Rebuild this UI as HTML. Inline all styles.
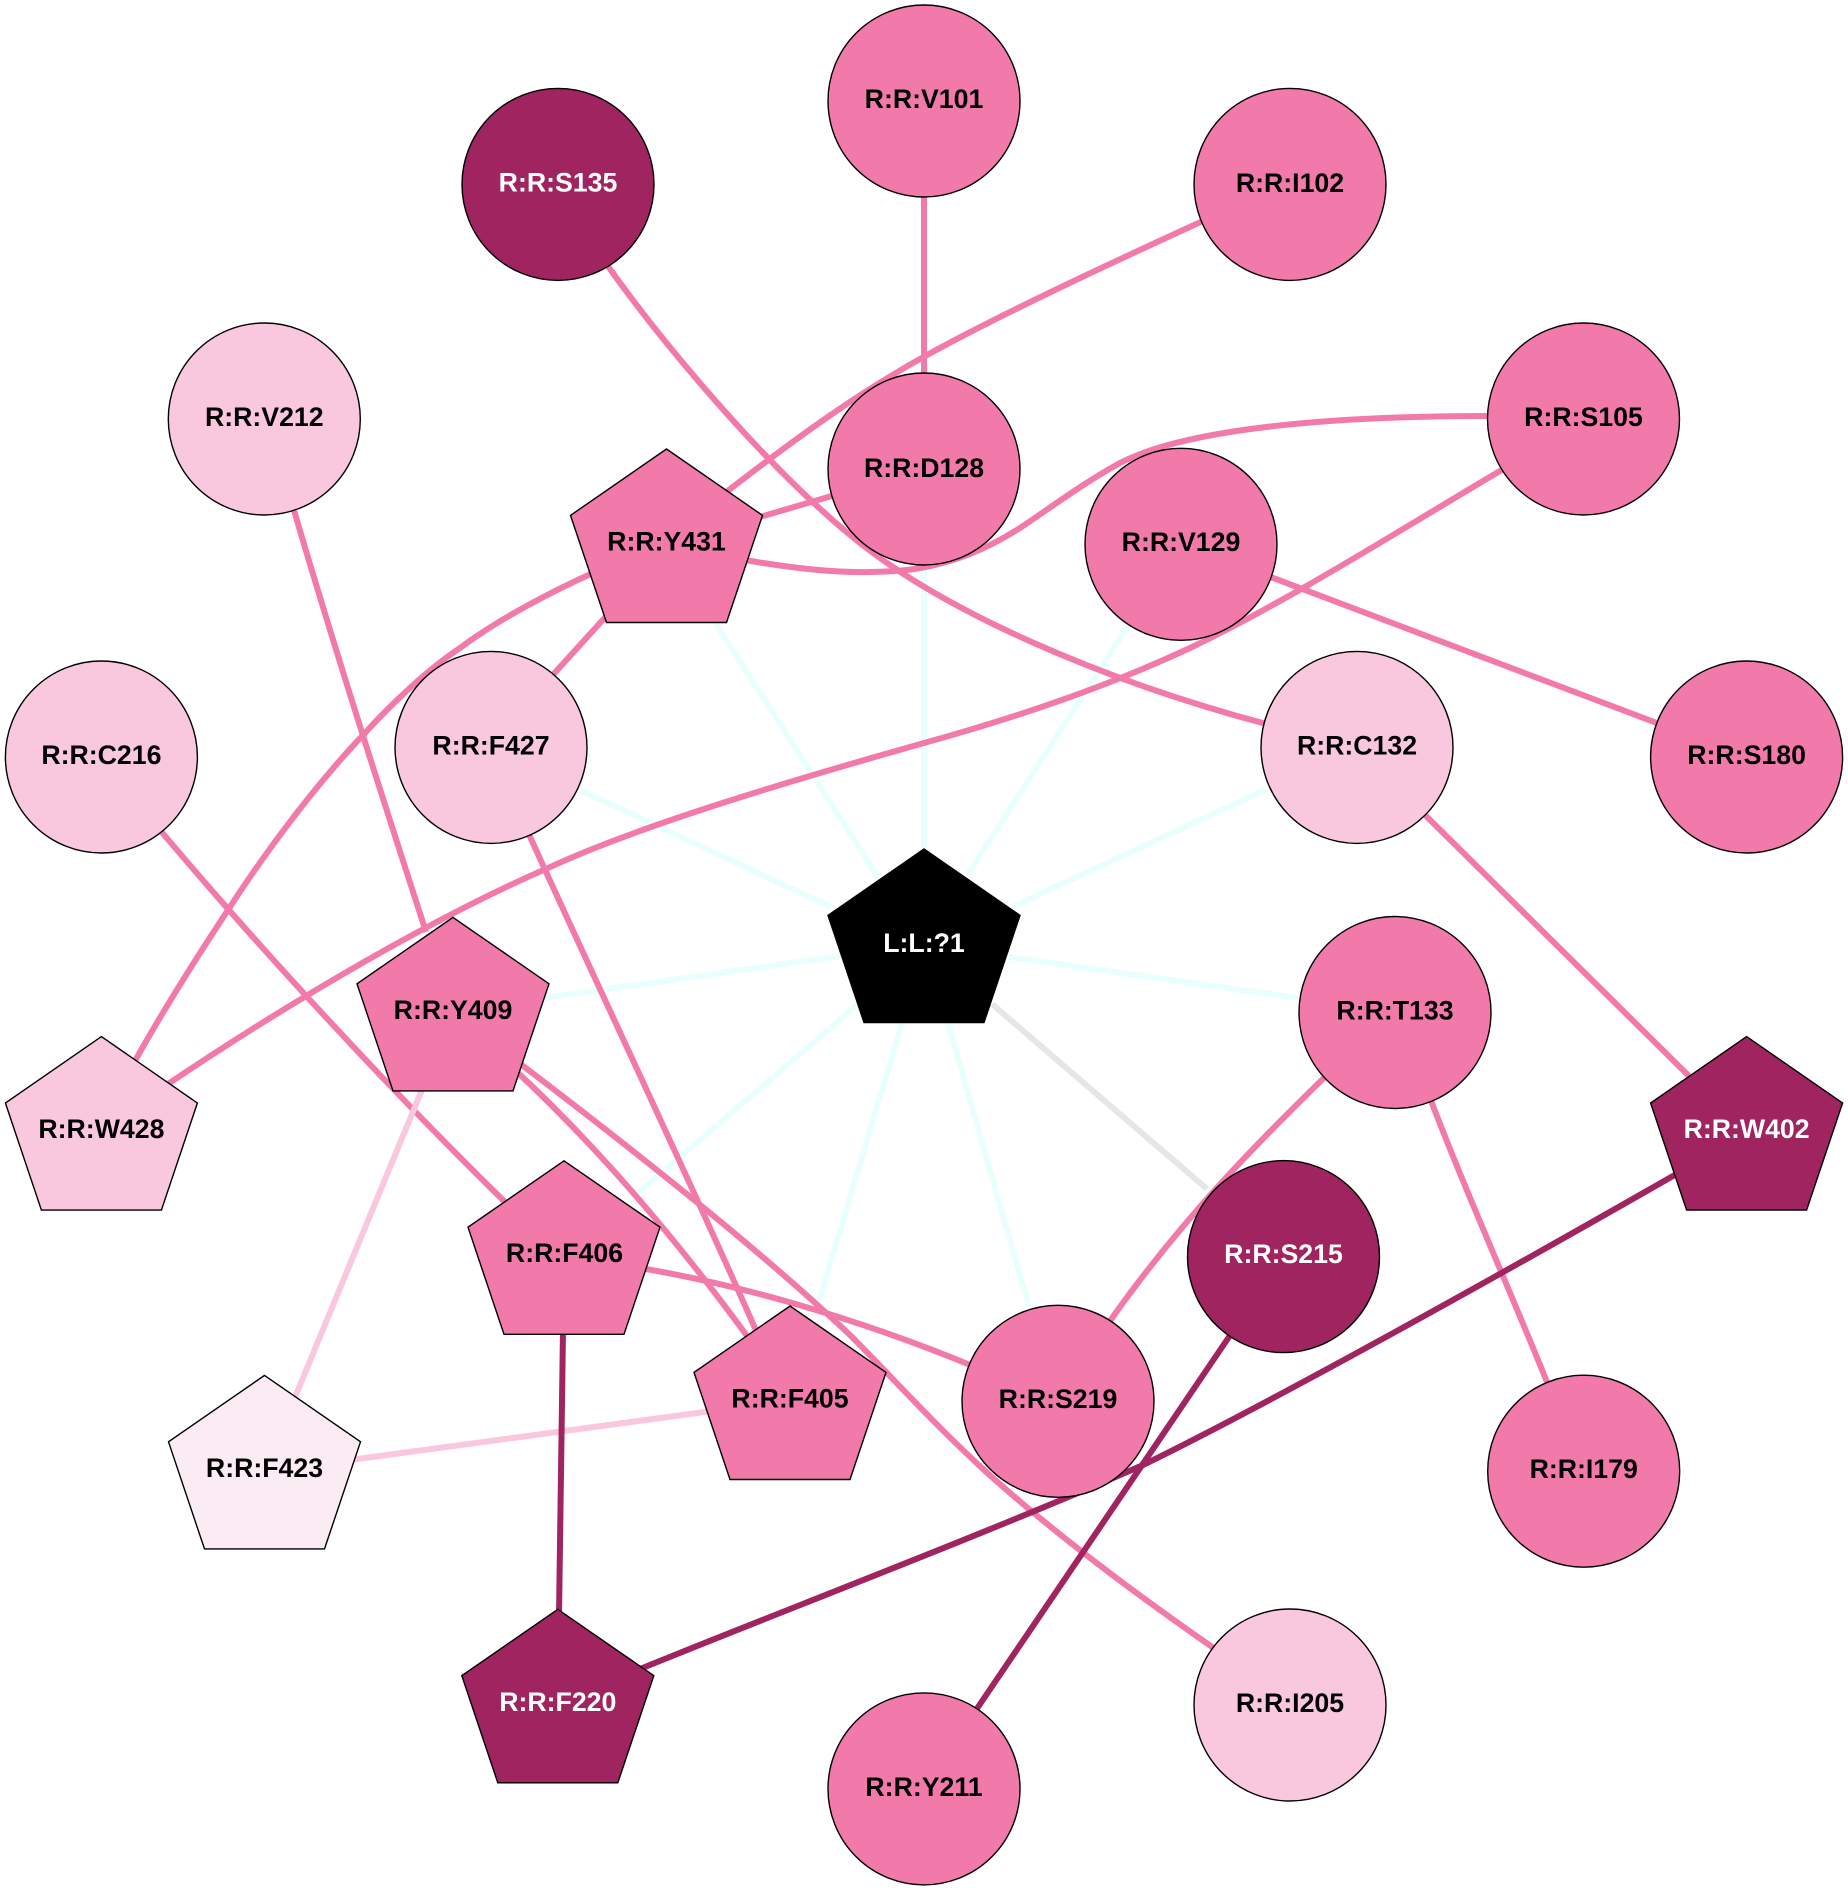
<!DOCTYPE html>
<html>
<head>
<meta charset="utf-8">
<title>Diagram</title>
<style>
html,body{margin:0;padding:0;background:#fff}
svg{display:block}
text{font-family:"Liberation Sans",Arial,sans-serif;font-weight:bold;font-size:26.7px;text-anchor:middle}
.c{stroke:#e8fffd;stroke-width:6;fill:none}
.p{stroke:#f27aab;stroke-width:6;fill:none}
.l{stroke:#f9c7de;stroke-width:6;fill:none}
.d{stroke:#a0245f;stroke-width:6;fill:none}
.g{stroke:#e6e6e6;stroke-width:6;fill:none}
.n{stroke:#000;stroke-width:1.4}
.fp{fill:#f27aab}.fl{fill:#f9c7de}.fd{fill:#a0245f}.fv{fill:#fbecf4}.fk{fill:#000}
.w{fill:#fff}.k{fill:#000}
</style>
</head>
<body>
<svg width="1848" height="1890" viewBox="0 0 1848 1890" xmlns="http://www.w3.org/2000/svg">
<defs>
<polygon id="pent" points="0,0 96,66.4 60,173.5 -60,173.5 -96,66.4"/>
</defs>
<rect width="1848" height="1890" fill="#fff"/>

<!-- ligand edges -->
<path class="c" d="M924,560V860"/>
<path class="c" d="M716,624L878,877"/>
<path class="c" d="M1127,627L968,874"/>
<path class="c" d="M580,790L831,907"/>
<path class="c" d="M1265,790L1012,907"/>
<path class="c" d="M545,998L840,956"/>
<path class="c" d="M1298,998L1009,957"/>
<path class="c" d="M639,1192L857,1005"/>
<path class="c" d="M819,1301L902,1023"/>
<path class="c" d="M1029,1307L948,1023"/>
<path class="g" d="M992,1004L1207,1189"/>

<!-- residue edges -->
<path class="p" d="M924,195V375"/>
<path class="p" d="M1205,220C1100,268 1000,315 927,355C860,392 800,435 725,493"/>
<path class="p" d="M760,517L835,495"/>
<path class="p" d="M745,560C785,567 830,573 870,572C890,571.5 905,571 920,568C955,562 985,550 1020,528C1050,508 1085,482 1120,463C1170,437 1280,416 1490,416"/>
<path class="p" d="M595,572C555,590 500,618 460,648C430,668 395,700 365,733C320,780 270,845 228,910C195,960 160,1015 130,1070"/>
<path class="p" d="M610,612L550,678"/>
<path class="p" d="M605,262C660,340 760,460 850,535C940,610 1100,680 1270,725"/>
<path class="p" d="M1268,576L1662,725"/>
<path class="p" d="M1505,468C1400,530 1290,600 1190,648C1100,690 1000,722 924,743C800,778 640,825 548,868C440,915 300,995 165,1086"/>
<path class="p" d="M293,507C335,650 380,790 426,932"/>
<path class="p" d="M160,830C240,925 370,1070 508,1205"/>
<path class="p" d="M527,830C590,970 690,1180 758,1335"/>
<path class="p" d="M515,1070C590,1140 670,1230 750,1340"/>
<path class="p" d="M518,1062C640,1155 760,1250 850,1335C890,1375 930,1420 983,1469C1050,1530 1130,1590 1215,1649"/>
<path class="p" d="M640,1268C730,1283 850,1315 975,1367"/>
<path class="p" d="M1330,1072C1260,1140 1180,1220 1105,1328"/>
<path class="p" d="M1430,1098C1465,1190 1510,1290 1549,1387"/>
<path class="p" d="M1420,810L1693,1080"/>
<path class="l" d="M424,1085L293,1402"/>
<path class="l" d="M712,1411L350,1460"/>
<path class="d" d="M563,1330L559,1615"/>
<path class="d" d="M640,1669C780,1612 1000,1528 1143,1465C1270,1403 1500,1275 1680,1172"/>
<path class="d" d="M1233,1331L974,1713"/>

<!-- circle nodes -->
<g class="n">
<circle class="fp" cx="924" cy="101" r="96"/>
<circle class="fd" cx="558" cy="184.4" r="96"/>
<circle class="fp" cx="1290" cy="184.4" r="96"/>
<circle class="fl" cx="264.3" cy="419" r="96"/>
<circle class="fp" cx="924" cy="469" r="96"/>
<circle class="fp" cx="1583.5" cy="419" r="96"/>
<circle class="fp" cx="1181" cy="544.3" r="96"/>
<circle class="fl" cx="491" cy="747.4" r="96"/>
<circle class="fl" cx="101.4" cy="757" r="96"/>
<circle class="fl" cx="1357" cy="747.4" r="96"/>
<circle class="fp" cx="1746.6" cy="757" r="96"/>
<circle class="fp" cx="1395" cy="1012.5" r="96"/>
<circle class="fd" cx="1283.5" cy="1256.6" r="96"/>
<circle class="fp" cx="1058" cy="1401.3" r="96"/>
<circle class="fp" cx="1583.7" cy="1471.2" r="96"/>
<circle class="fl" cx="1290" cy="1705" r="96"/>
<circle class="fp" cx="924" cy="1788.9" r="96"/>
<!-- pentagon nodes -->
<use href="#pent" class="fp" x="666.5" y="449"/>
<use href="#pent" class="fp" x="453" y="917.4"/>
<use href="#pent" class="fl" x="101.4" y="1036.6"/>
<use href="#pent" class="fp" x="564" y="1160.8"/>
<use href="#pent" class="fp" x="790" y="1306"/>
<use href="#pent" class="fv" x="264.5" y="1375.4"/>
<use href="#pent" class="fd" x="557.8" y="1609.3"/>
<use href="#pent" class="fd" x="1746.6" y="1036.6"/>
<use href="#pent" class="fk" x="924" y="849"/>
</g>

<!-- labels -->
<text class="k" x="924" y="108">R:R:V101</text>
<text class="w" x="558" y="191.5">R:R:S135</text>
<text class="k" x="1290" y="192">R:R:I102</text>
<text class="k" x="264.3" y="426">R:R:V212</text>
<text class="k" x="924" y="477">R:R:D128</text>
<text class="k" x="1583.5" y="426">R:R:S105</text>
<text class="k" x="1181" y="551">R:R:V129</text>
<text class="k" x="491" y="754.5">R:R:F427</text>
<text class="k" x="101.4" y="764">R:R:C216</text>
<text class="k" x="1357" y="754.5">R:R:C132</text>
<text class="k" x="1746.6" y="764">R:R:S180</text>
<text class="k" x="1395" y="1019.5">R:R:T133</text>
<text class="w" x="1283.5" y="1263">R:R:S215</text>
<text class="k" x="1058" y="1408">R:R:S219</text>
<text class="k" x="1583.7" y="1478">R:R:I179</text>
<text class="k" x="1290" y="1712">R:R:I205</text>
<text class="k" x="924" y="1796">R:R:Y211</text>
<text class="k" x="666.5" y="550.5">R:R:Y431</text>
<text class="k" x="453" y="1019">R:R:Y409</text>
<text class="k" x="101.4" y="1138">R:R:W428</text>
<text class="k" x="564.5" y="1262">R:R:F406</text>
<text class="k" x="790" y="1407.5">R:R:F405</text>
<text class="k" x="264.5" y="1477">R:R:F423</text>
<text class="w" x="557.8" y="1711">R:R:F220</text>
<text class="w" x="1746.6" y="1138">R:R:W402</text>
<text class="w" x="924" y="952">L:L:?1</text>
</svg>
</body>
</html>
